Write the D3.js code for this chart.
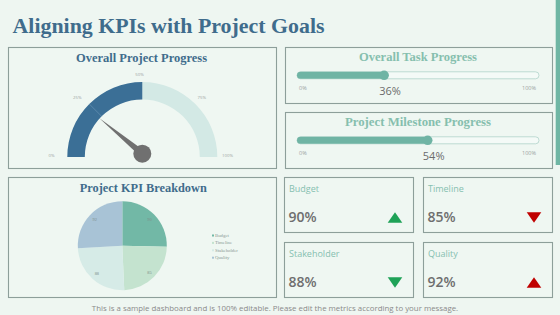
<!DOCTYPE html>
<html>
<head>
<meta charset="utf-8">
<script src="https://cdn.jsdelivr.net/npm/d3@7"></script>
<style>
  html, body { margin: 0; padding: 0; background: #eef6f1; }
  svg { display: block; }
</style>
</head>
<body>
<svg id="chart" width="560" height="315"></svg>
<script>
// chart data
const gaugeTicks = [0, 25, 50, 75, 100];
const gaugeFill = 50;
const gaugeNeedle = 22;

const progressTitles = ["Overall Task Progress", "Project Milestone Progress"];
const progressValues = [36, 54];
const progressEnds = ["0%", "100%"];

const kpiNames = ["Budget", "Timeline", "Stakeholder", "Quality"];
const kpiValues = [90, 85, 88, 92];
const kpiTrend = ["up", "down", "down", "up"];
const kpiGood = [true, false, true, false];

const pieColors = ["#72b8a6", "#c4e3cf", "#d6ebe7", "#a8c3d6"];

const W = 560, H = 315;
const svg = d3.select("#chart");
const serif = "'Liberation Serif', 'DejaVu Serif', Georgia, serif";
const sans = "'Open Sans', 'Noto Sans', sans-serif";
const border = "#8d9f9a";

// shrink/grow a text node so it spans the given width
function fit(t, width) {
  const fs = parseFloat(t.attr("font-size"));
  const w = t.node().getComputedTextLength();
  t.attr("font-size", fs * width / w);
  return t;
}
// keep the font size, stretch the glyphs to the given width
function squeeze(t, width) {
  t.attr("textLength", width).attr("lengthAdjust", "spacingAndGlyphs");
  return t;
}

svg.append("rect").attr("width", W).attr("height", H).attr("fill", "#eef6f1");
svg.append("rect").attr("x", 555.7).attr("y", 0).attr("width", 4.3).attr("height", 165).attr("fill", "#6fb6a4");

squeeze(svg.append("text")
  .attr("x", 12.5).attr("y", 33)
  .attr("font-family", serif).attr("font-weight", "bold")
  .attr("font-size", 22).attr("fill", "#3f6c8c")
  .text("Aligning KPIs with Project Goals"), 312);

function panel(x0, y0, x1, y1) {
  svg.append("rect")
    .attr("x", x0 + 0.5).attr("y", y0 + 0.5)
    .attr("width", x1 - x0).attr("height", y1 - y0)
    .attr("fill", "#eff7f2").attr("stroke", border).attr("stroke-width", 1.1);
}

function panelTitle(x, y, text, width, color) {
  squeeze(svg.append("text")
    .attr("x", x - width / 2).attr("y", y)
    .attr("font-family", serif).attr("font-weight", "bold")
    .attr("font-size", 12.8).attr("fill", color)
    .text(text), width);
}

// ---------- gauge ----------
panel(8, 47, 276, 168);
panelTitle(141.5, 61.7, "Overall Project Progress", 131, "#3f6c8c");

const gx = 142.3, gy = 157;
const ang = d3.scaleLinear().domain([0, 100]).range([-Math.PI / 2, Math.PI / 2]);
const arc = d3.arc().innerRadius(57.5).outerRadius(75);
const g = svg.append("g").attr("transform", `translate(${gx},${gy})`);

g.append("path").attr("d", arc({ startAngle: ang(gaugeFill), endAngle: ang(100) })).attr("fill", "#d3e9e5");
g.append("path").attr("d", arc({ startAngle: ang(0), endAngle: ang(gaugeFill) })).attr("fill", "#3b6f96");
// thin divider at the 25% mark
const a25 = ang(25);
g.append("line")
  .attr("x1", 57.5 * Math.sin(a25)).attr("y1", -57.5 * Math.cos(a25))
  .attr("x2", 75 * Math.sin(a25)).attr("y2", -75 * Math.cos(a25))
  .attr("stroke", "#6f98b8").attr("stroke-width", 0.6);

g.selectAll("text.tick").data(gaugeTicks).join("text")
  .attr("class", "tick")
  .attr("x", d => -2.8 + 88 * Math.sin(ang(d)))
  .attr("y", d => 1.5 - (d === 50 ? 83 : 84 * Math.cos(ang(d))) - (d === 0 || d === 100 ? 1.3 : 0))
  .attr("text-anchor", "middle")
  .attr("font-family", sans).attr("font-size", 4.3).attr("fill", "#9aa29f")
  .text(d => d + "%");

// needle
const na = ang(gaugeNeedle);
const px = 0, py = -3.3, len = 56, half = 3.4;
const tip = [px + len * Math.sin(na), py - len * Math.cos(na)];
const perp = [Math.cos(na), Math.sin(na)];
g.append("path")
  .attr("d", `M${px + perp[0] * half},${py + perp[1] * half}L${tip[0]},${tip[1]}L${px - perp[0] * half},${py - perp[1] * half}Z`)
  .attr("fill", "#707070");
g.append("circle").attr("cx", px).attr("cy", py).attr("r", 9).attr("fill", "#707070");

// ---------- progress sliders ----------
const barX = d3.scaleLinear().domain([0, 100]).range([297, 539]);
const progTop = [47, 112];
progressTitles.forEach((title, i) => {
  const y0 = progTop[i];
  panel(285, y0, 552, y0 + 56);
  panelTitle(418, y0 + 13.7, title, i === 0 ? 118 : 146, "#86bfae");
  const cy = y0 + 28.3;
  svg.append("rect")
    .attr("x", barX(0)).attr("y", cy - 3.5).attr("width", barX(100) - barX(0)).attr("height", 7)
    .attr("rx", 3.5).attr("fill", "#f4faf7").attr("stroke", "#a7cfc4").attr("stroke-width", 0.7);
  svg.append("rect")
    .attr("x", barX(0)).attr("y", cy - 3.5).attr("width", barX(progressValues[i]) - barX(0)).attr("height", 7)
    .attr("rx", 3.5).attr("fill", "#6fb4a4");
  svg.append("circle").attr("cx", barX(progressValues[i])).attr("cy", cy).attr("r", 4.8).attr("fill", "#6fb4a4");
  svg.append("text")
    .attr("x", barX(0) + 2).attr("y", cy + 15)
    .attr("font-family", sans).attr("font-size", 5.5).attr("fill", "#9aa29f")
    .text(progressEnds[0]);
  svg.append("text")
    .attr("x", barX(100) - 3).attr("y", cy + 15).attr("text-anchor", "end")
    .attr("font-family", sans).attr("font-size", 5.5).attr("fill", "#9aa29f")
    .text(progressEnds[1]);
  svg.append("text")
    .attr("x", barX(progressValues[i]) + 6).attr("y", cy + 19.5).attr("text-anchor", "middle")
    .attr("font-family", sans).attr("font-size", 11).attr("fill", "#6b6b6b")
    .text(progressValues[i] + "%");
});

// ---------- pie ----------
panel(8, 177, 276, 297);
panelTitle(143.3, 191.7, "Project KPI Breakdown", 127, "#3f6c8c");

const pie = d3.pie().sort(null).value(d => d)(kpiValues);
const pArc = d3.arc().innerRadius(0).outerRadius(44.5);
const lArc = d3.arc().innerRadius(38).outerRadius(38);
const pg = svg.append("g").attr("transform", "translate(122.3,245.7)");
pg.selectAll("path").data(pie).join("path")
  .attr("d", pArc).attr("fill", (d, i) => pieColors[i]);
pg.selectAll("text").data(pie).join("text")
  .attr("transform", d => {
    const c = lArc.centroid(d);
    return `translate(${c[0]},${c[1] + 1.4})`;
  })
  .attr("text-anchor", "middle")
  .attr("font-family", serif).attr("font-size", 4.4).attr("fill", "#7e8e8b")
  .text(d => d.data);

const leg = svg.append("g").attr("transform", "translate(212,236.7)");
const li = leg.selectAll("g").data(kpiNames).join("g")
  .attr("transform", (d, i) => `translate(0,${i * 7.4})`);
li.append("rect").attr("x", 0).attr("y", -2.2).attr("width", 2).attr("height", 2)
  .attr("fill", (d, i) => pieColors[i]);
li.append("text").attr("x", 3).attr("y", 0)
  .attr("font-family", serif).attr("font-size", 4.8).attr("fill", "#8a9794")
  .text(d => d);

// ---------- KPI cards ----------
const cards = [[284, 177], [423, 177], [284, 242], [423, 242]];
kpiNames.forEach((name, i) => {
  const [x0, y0] = cards[i];
  panel(x0, y0, x0 + 129, y0 + 55);
  svg.append("text")
    .attr("x", x0 + 5).attr("y", y0 + 15.2)
    .attr("font-family", sans).attr("font-size", 9).attr("fill", "#86c0b0")
    .text(name);
  svg.append("text")
    .attr("x", x0 + 4.5).attr("y", y0 + 44.7)
    .attr("font-family", sans).attr("font-weight", 600)
    .attr("font-size", 14).attr("fill", "#6e6e6e")
    .text(kpiValues[i] + "%");
  const cx = x0 + 111, cy = y0 + 40.5, hw = 7.3, hh = 5.3;
  const s = kpiTrend[i] === "up" ? 1 : -1;
  svg.append("path")
    .attr("d", `M${cx},${cy - s * hh}L${cx + hw},${cy + s * hh}L${cx - hw},${cy + s * hh}Z`)
    .attr("fill", kpiGood[i] ? "#1ea257" : "#c00000");
});

// footer
fit(svg.append("text")
  .attr("x", 275).attr("y", 310.5).attr("text-anchor", "middle")
  .attr("font-family", sans).attr("font-size", 7).attr("fill", "#8a8a8a")
  .text("This is a sample dashboard and is 100% editable. Please edit the metrics according to your message."), 367);
</script>
</body>
</html>
